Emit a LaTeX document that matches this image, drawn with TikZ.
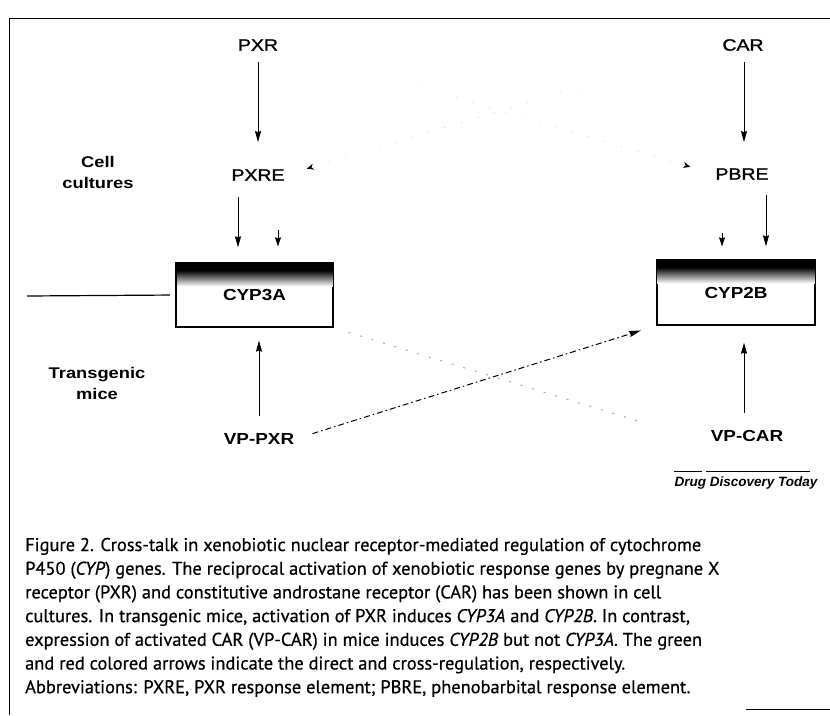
\documentclass[tikz,border=0pt]{standalone}
\usepackage{graphicx}
\usepackage{fontspec}
\setmainfont{Liberation Sans}
\newfontfamily\medfont[FakeBold=1.2]{Liberation Sans}
\newfontfamily\capfont[FakeBold=0.6]{PT Sans}
\usetikzlibrary{arrows.meta,calc}

% labels in the scheme are set a little wider than the font
\newcommand{\xw}[1]{\scalebox{1.18}[1]{#1}}

\tikzset{
  lab/.style={inner sep=1pt, font=\medfont\fontsize{16.5}{19}\selectfont},
  blab/.style={inner sep=1pt, font=\bfseries\fontsize{16}{19}\selectfont},
  side/.style={align=center, inner sep=1pt, font=\bfseries\fontsize{15.5}{21}\selectfont},
  gene/.style={draw, line width=1.3pt, minimum width=156pt, minimum height=64pt,
               inner sep=0pt, font=\bfseries\fontsize{16}{19}\selectfont},
  arr/.style={line width=1pt, -{Stealth[length=11pt,width=6pt,inset=1pt]}},
  tipx/.style={line width=1pt, -{Stealth[length=9pt,width=6pt,inset=1pt]}},
  faint/.style={gray!30, line width=0.8pt, dash pattern=on 1.2pt off 16pt,
                -{Stealth[black,length=7pt,width=6pt]}},
  cross/.style={line width=1pt, dash pattern=on 6pt off 3pt on 1.5pt off 3pt,
                -{Stealth[length=12pt,width=6pt,inset=1pt]}},
  dots/.style={gray!70, line width=1pt, dash pattern=on 2pt off 10pt},
  capline/.style={anchor=base west, inner sep=0pt, font=\capfont\fontsize{18.4}{20}\selectfont},
}

\begin{document}
\begin{tikzpicture}[x=1pt,y=-1pt]
\useasboundingbox (0,0) rectangle (830,715);

% frame
\draw[line width=1pt] (9,715) -- (9,18) -- (830,18);
\draw[line width=1pt] (746,709) -- (830,709);

% receptors and response elements
\node[lab] (pxr) at (258,45) {\xw{PXR}};
\node[lab] (car) at (743,45) {\xw{CAR}};
\node[lab] (pxre) at (258,175) {\xw{PXRE}};
\node[lab] (pbre) at (742,174) {\xw{PBRE}};

% side labels
\node[side] (cell) at (98,172) {\xw{Cell}\\\xw{cultures}};
\node[side] (mice) at (97,383) {\xw{Transgenic}\\\xw{mice}};

% target genes
\node[gene] (b3) at (254.5,295) {};
\node[gene, minimum width=158pt, minimum height=65pt] (b2) at (736,292.5) {};
\foreach \b in {b3,b2}{
  \fill (\b.north west) rectangle ($(\b.north east)+(0,8)$);
  \shade[top color=black, bottom color=white]
    ($(\b.north west)+(0,8)$) rectangle ($(\b.north east)+(0,24)$);
  \draw[line width=1.3pt] (\b.north west) rectangle (\b.south east);
}
\node[blab] (t3) at (b3) {\xw{CYP3A}};
\node[blab] (t2) at (b2) {\xw{CYP2B}};

% activated receptors
\node[blab] (vppxr) at (259,439) {\xw{VP-PXR}};
\node[blab] (vpcar) at (747,436) {\xw{VP-CAR}};

% separator line to the left of CYP3A
\coordinate (lend) at (27,296);
\draw[line width=1.2pt, shorten >=6pt] (lend) -- (b3.west);

% direct regulation
\draw[arr, shorten <=10pt, shorten >=26pt] (pxr.south) -- (pxre.north);
\draw[arr, shorten <=10pt, shorten >=25pt] ([xshift=1pt]car.south) -- ([xshift=1pt]car.south |- pbre.north);
\draw[arr, shorten <=15pt, shorten >=15pt] ([xshift=-20pt]pxre.south) -- ([xshift=-20pt]pxre.south |- b3.north);
\draw[arr, shorten <=14pt, shorten >=13pt] ([xshift=24pt]pbre.south) -- ([xshift=24pt]pbre.south |- b2.north);
\draw[arr, shorten <=16pt, shorten >=13pt] (vppxr.north) -- (vppxr.north |- b3.south);
\draw[arr, shorten <=16pt, shorten >=17pt] ([xshift=-3pt]vpcar.north) -- ([xshift=-3pt]vpcar.north |- b2.south);

% cross regulation (faded)
\draw[faint, shorten <=150pt, shorten >=25pt] (pxr.east) -- (pbre.west);
\draw[faint, shorten <=150pt, shorten >=22pt] (car.west) -- (pxre.east);
\draw[tipx, shorten <=48pt, shorten >=16pt] ([xshift=20pt]pxre.south) -- ([xshift=20pt]pxre.south |- b3.north);
\draw[tipx, shorten <=52pt, shorten >=13pt] ([xshift=-20pt]pbre.south) -- ([xshift=-20pt]pbre.south |- b2.north);
\draw[cross, shorten <=18pt, shorten >=16pt] (vppxr.east) -- (b2.south west);
\draw[dots, shorten <=16pt, shorten >=75pt] (b3.south east) -- (vpcar.south west);

% journal credit
\node[inner sep=0pt, font=\bfseries\itshape\fontsize{13.5}{15}\selectfont] (ddt) at (746,483) {Drug Discovery Today};
\draw[line width=1pt] ($(ddt.north west)+(0,-5)$) -- ++(28,0);
\draw[line width=1pt] ($(ddt.north west)+(32,-5)$) -- ($(ddt.north east)+(-8,-5)$);

% caption
\node[capline] (c1) at (25,551.0) {Figure 2. Cross-talk in xenobiotic nuclear receptor-mediated regulation of cytochrome};
\node[capline] (c2) at (25,574.7) {P450 (\textit{CYP}) genes. The reciprocal activation of xenobiotic response genes by pregnane X};
\node[capline] (c3) at (25,598.4) {receptor (PXR) and constitutive androstane receptor (CAR) has been shown in cell};
\node[capline] (c4) at (25,622.1) {cultures. In transgenic mice, activation of PXR induces \textit{CYP3A} and \textit{CYP2B}. In contrast,};
\node[capline] (c5) at (25,645.8) {expression of activated CAR (VP-CAR) in mice induces \textit{CYP2B} but not \textit{CYP3A}. The green};
\node[capline] (c6) at (25,669.5) {and red colored arrows indicate the direct and cross-regulation, respectively.};
\node[capline] (c7) at (25,693.2) {Abbreviations: PXRE, PXR response element; PBRE, phenobarbital response element.};
\end{tikzpicture}
\end{document}
